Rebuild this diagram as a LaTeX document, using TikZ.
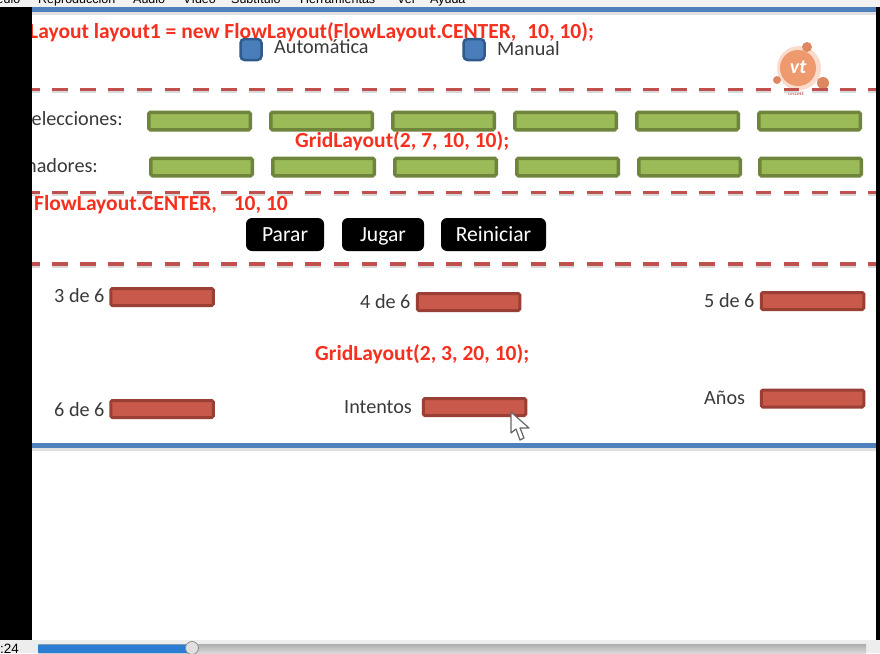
\documentclass[tikz,border=0pt]{standalone}
\usepackage{fontspec}
\setmainfont{Carlito}
\newfontfamily\menufont{Liberation Sans}
\definecolor{barblue}{HTML}{4F81BD}
\definecolor{redfill}{HTML}{C9594B}
\definecolor{redline}{HTML}{9A3F35}
\definecolor{greenfill}{HTML}{9BBB59}
\definecolor{greenline}{HTML}{6F853C}
\definecolor{dashred}{HTML}{C0504D}
\definecolor{boxblue}{HTML}{4A7EBB}
\definecolor{boxblueline}{HTML}{2F5A8C}
\definecolor{codered}{HTML}{F5301E}
\definecolor{labelgray}{HTML}{3A3A3A}
\definecolor{logoorange}{HTML}{EE9A6E}
\definecolor{seekblue}{HTML}{2B7CD3}
\tikzset{
  greenbox/.style={draw=greenline,fill=greenfill,line width=3.5pt,rounded corners=1.5pt,minimum width=101.5pt,minimum height=17.5pt,inner sep=0pt},
  redbox/.style={draw=redline,fill=redfill,line width=3pt,rounded corners=1.5pt,minimum width=102.5pt,minimum height=17pt,inner sep=0pt},
  bluebox/.style={draw=boxblueline,fill=boxblue,line width=2.5pt,rounded corners=4pt,minimum size=21pt,inner sep=0pt},
  blackbtn/.style={fill=black,rounded corners=6pt,minimum height=33pt,inner sep=0pt,text=white,text height=14pt,text depth=0pt,font=\fontsize{21.6}{22}\selectfont},
  codetxt/.style={text=codered,font=\bfseries\fontsize{21.5}{22}\selectfont,inner sep=0pt,anchor=base west},
  lbl/.style={text=labelgray,font=\fontsize{20.2}{21}\selectfont,inner sep=0pt,anchor=base west},
  dashline/.style={draw=dashred,line width=3.4pt,dash pattern=on 15.7pt off 12.44pt,dash phase=8pt},
  dashshadow/.style={draw=black!15,line width=3pt,dash pattern=on 15.7pt off 12.44pt,dash phase=8pt},
  bluebar/.style={draw=barblue,line width=5pt},
  barshadow/.style={draw=black!12,line width=3pt},
  menutxt/.style={font=\menufont\fontsize{12.5}{13}\selectfont,inner sep=0pt,anchor=base west,text=black}
}
\begin{document}
\begin{tikzpicture}[x=1pt,y=-1pt]
\useasboundingbox (0,0) rectangle (880,653);
\fill[white] (0,0) rectangle (880,653);
% menu strip
\fill[black!5] (0,0) rectangle (880,7);
\node[menutxt] (m0) at (-14,3) {Medio};
\node[menutxt] (m1) at (38,3) {Reproducción};
\node[menutxt] (m2) at (133,3) {Audio};
\node[menutxt] (m3) at (183,3) {Vídeo};
\node[menutxt] (m4) at (231,3) {Subtítulo};
\node[menutxt] (m5) at (300,3) {Herramientas};
\node[menutxt] (m6) at (397,3) {Ver};
\node[menutxt] (m7) at (430,3) {Ayuda};
% blue bars
\coordinate (barAl) at (32,9.5); \coordinate (barAr) at (876,9.5);
\coordinate (barBl) at (32,445.5); \coordinate (barBr) at (876,445.5);
\draw[barshadow] ([yshift=-4pt]barAl) -- ([yshift=-4pt]barAr);
\draw[barshadow] ([yshift=-4pt]barBl) -- ([yshift=-4pt]barBr);
\draw[bluebar] (barAl) -- (barAr);
\draw[bluebar] (barBl) -- (barBr);
% logo
\draw[logoorange!60,line width=2pt] (777,80) -- (801,67) (807,47) -- (801,67) (823,83) -- (801,67);
\fill[logoorange!35] (799,68) circle (22);
\fill[logoorange] (798,68) circle (18);
\fill[logoorange!80!redline] (807,47) circle (5);
\fill[logoorange!80!redline] (777,80) circle (4);
\fill[logoorange!80!redline] (823,83) circle (6);
\node[text=white,font=\bfseries\itshape\fontsize{20}{20}\selectfont,inner sep=0pt] (logo) at (798,67) {vt};
\node[text=dashred!80,font=\bfseries\fontsize{5}{5}\selectfont,inner sep=0pt] (logotxt) at (796,94) {ONLINE};
% dashes
\foreach \n/\yy in {a/89.5,b/192.5,c/264}{
  \coordinate (d\n l) at (32,\yy); \coordinate (d\n r) at (876,\yy);
  \draw[dashshadow] ([yshift=-2pt]d\n l) -- ([yshift=-2pt]d\n r);
  \draw[dashline] (d\n l) -- (d\n r);
}
% code text
\node[codetxt] (c1) at (29,38) {Layout layout1 = new FlowLayout(FlowLayout.CENTER,\hspace{6pt} 10, 10);};
\node[codetxt] (c2) at (295,147.5) {GridLayout(2, 7, 10, 10);};
\node[codetxt] (c3) at (34,210) {FlowLayout.CENTER,\hspace{12pt} 10, 10};
\node[codetxt] (c4) at (315,360.5) {GridLayout(2, 3, 20, 10);};
% radios
\node[bluebox] (r1) at (251,49.5) {};
\node[lbl] (r1t) at (274,53) {Automática};
\node[bluebox] (r2) at (474,49.5) {};
\node[lbl] (r2t) at (497,55) {Manual};
% rows
\node[lbl] (s) at (31.5,125) {elecciones:};
\node[lbl] (j) at (26,172) {nadores:};
\foreach \i/\xx in {1/199.5,2/321.5,3/443.5,4/565.5,5/687.5,6/809.5}{
  \node[greenbox] (g\i) at (\xx,121) {};
}
\foreach \i/\xx in {1/201.5,2/323.5,3/445.5,4/567.5,5/689.5,6/810.5}{
  \node[greenbox] (h\i) at (\xx,167) {};
}
% buttons
\node[blackbtn,minimum width=78pt] (b1) at (285,234.5) {Parar};
\node[blackbtn,minimum width=82pt] (b2) at (383,234.5) {Jugar};
\node[blackbtn,minimum width=105pt] (b3) at (493.5,234.5) {Reiniciar};
% red boxes
\node[lbl] (t1) at (54,302) {3 de 6};
\node[redbox] (x1) at (162,297) {};
\node[lbl] (t2) at (360,308) {4 de 6};
\node[redbox] (x2) at (468.5,302) {};
\node[lbl] (t3) at (704,307) {5 de 6};
\node[redbox] (x3) at (812.5,301) {};
\node[lbl] (t4) at (54,416) {6 de 6};
\node[redbox] (x4) at (162,409) {};
\node[lbl] (t5) at (344,413) {Intentos};
\node[redbox] (x5) at (474.5,407) {};
\node[lbl] (t6) at (704,404) {Años};
\node[redbox] (x6) at (812.5,398.5) {};
% cursor
\draw[draw=black!60,fill=white,line width=1.2pt,line join=round]
 (511,412) -- (511,433) -- (516,429) -- (520,440) -- (524,438) -- (520,428) -- (529,428) -- cycle;
% window frame (clips the left of the slide)
\fill[black] (0,7) rectangle (32,640);
\fill[black] (876,7) rectangle (880,640);
% seek bar
\fill[black!7] (0,640) rectangle (880,653);
\shade[top color=black!32,bottom color=black!15] (38,644) rectangle (866,653);
\fill[seekblue,rounded corners=1pt] (38,644.5) rectangle (192,653);
\draw[black!45,fill=black!12,line width=.8pt] (192,648) circle (6.5);
\node[font=\menufont\fontsize{13.5}{14}\selectfont,inner sep=0pt,anchor=base west] (time) at (0,653) {:24};
\end{tikzpicture}
\end{document}
